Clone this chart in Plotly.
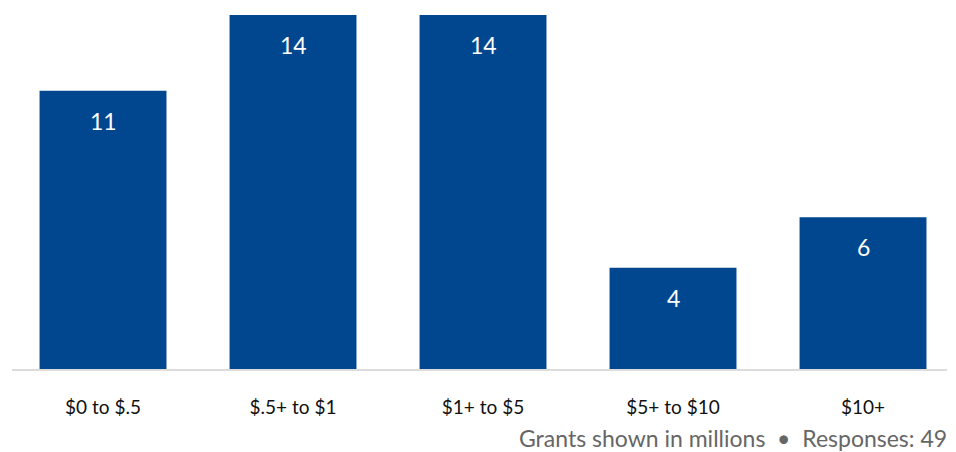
import plotly.graph_objects as go

categories = ["$0 to $.5", "$.5+ to $1", "$1+ to $5", "$5+ to $10", "$10+"]
values = [11, 14, 14, 4, 6]
footer = "Grants shown in millions  \u2022  Responses: 49"

BAR = "#00478F"
FONT = "Lato, 'Open Sans', sans-serif"

fig = go.Figure()
fig.add_trace(go.Bar(
    x=list(range(len(categories))), y=values, width=0.668,
    marker=dict(color=BAR, line=dict(width=0)),
    hoverinfo="skip",
))
for i, v in enumerate(values):
    fig.add_annotation(x=i, y=v, text=str(v), showarrow=False, yshift=-30,
                       font=dict(family=FONT, size=23, color="white"))
fig.add_annotation(xref="paper", yref="paper", x=1, y=0, xanchor="right", yanchor="middle",
                   yshift=-69, xshift=2, text=footer, showarrow=False,
                   font=dict(family=FONT, size=23, color="#666666"))

fig.update_layout(
    width=948, height=444,
    margin=dict(l=4, r=9, t=7, b=83),
    plot_bgcolor="white", paper_bgcolor="white",
    showlegend=False, bargap=0.33,
    font=dict(family=FONT, color="#111111"),
    xaxis=dict(range=[-0.479, 4.442], tickmode="array",
               tickvals=list(range(len(categories))), ticktext=categories,
               showgrid=False, zeroline=False, showline=True, linecolor="#dcdcdc", linewidth=2,
               ticks="", ticklabelstandoff=20, tickfont=dict(family=FONT, size=19, color="#111111")),
    yaxis=dict(range=[0, 14], visible=False, showgrid=False, zeroline=False),
)
fig.write_html("out.html")
